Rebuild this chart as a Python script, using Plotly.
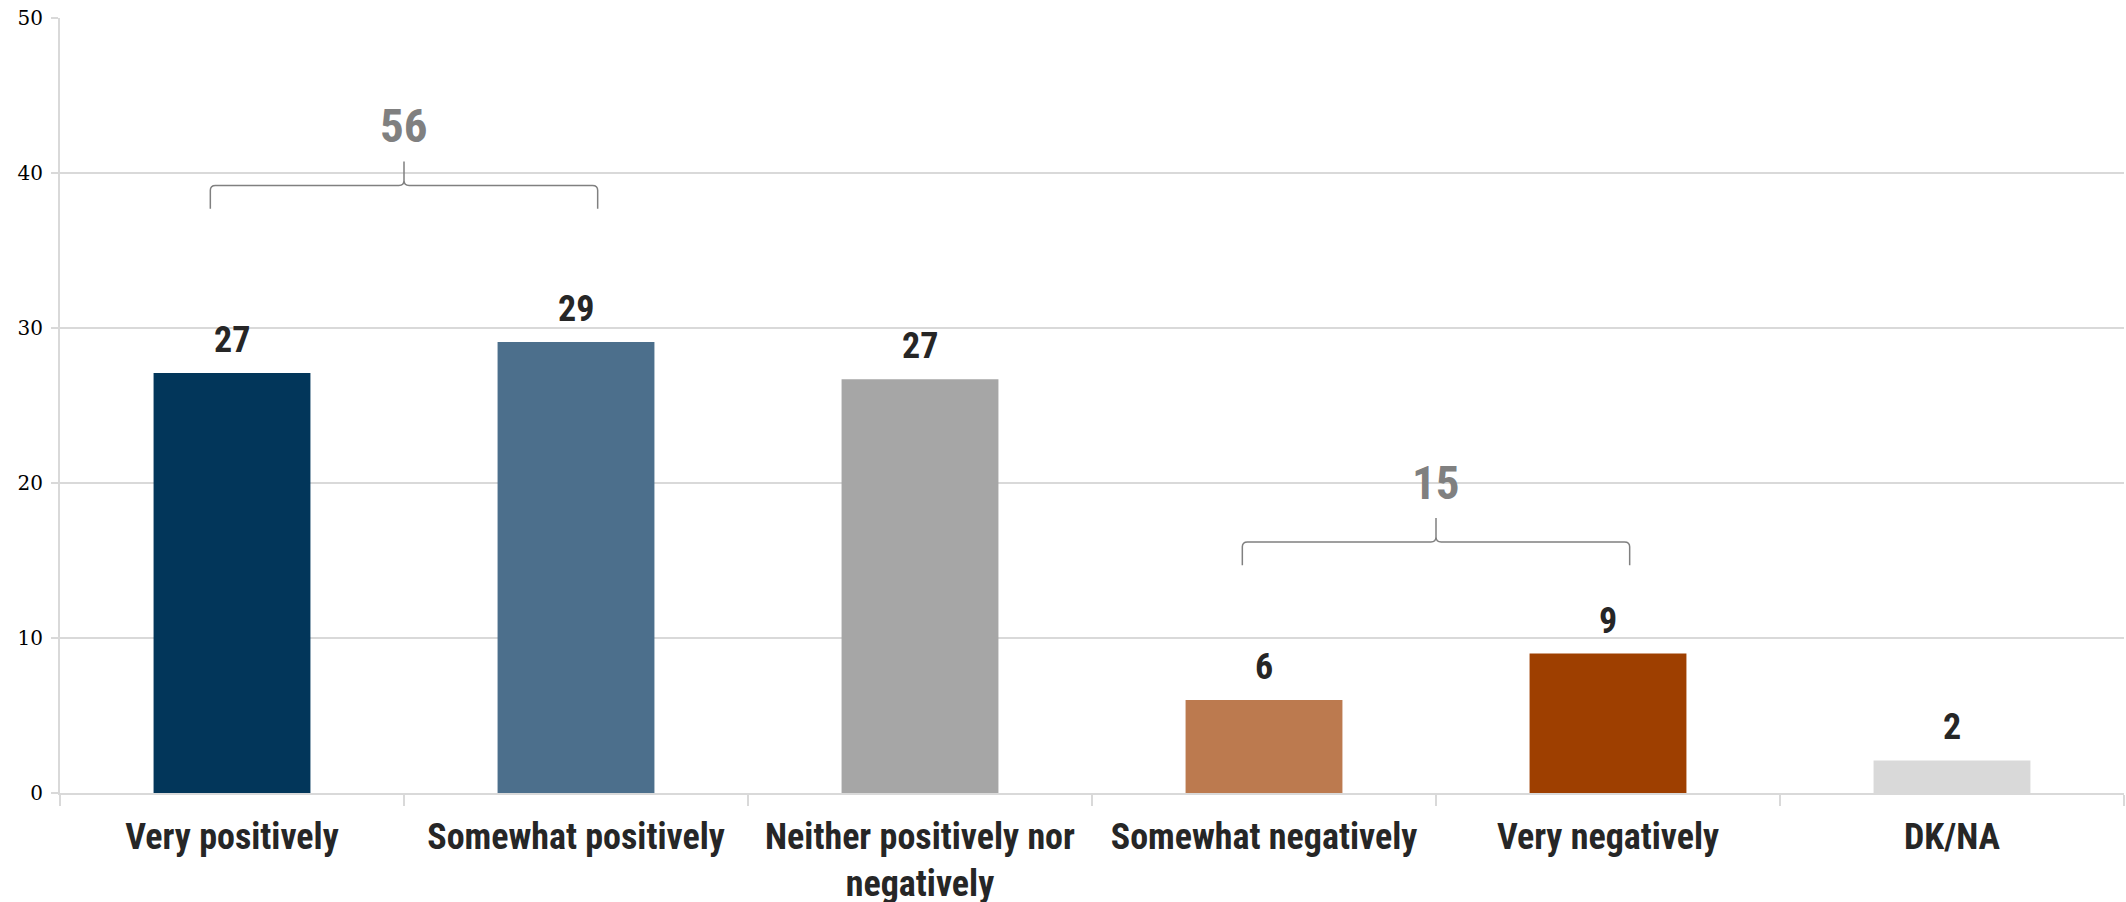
import plotly.graph_objects as go

# ---- data ----
categories = ["Very positively", "Somewhat positively", "Neither positively nor<br>negatively",
              "Somewhat negatively", "Very negatively", "DK/NA"]
values = [27.1, 29.1, 26.7, 6.0, 9.0, 2.1]
bar_colors = ["#02365A", "#4C6F8C", "#A6A6A6", "#BC7A4F", "#9E3F00", "#D9D9D9"]
y_ticks = [0, 10, 20, 30, 40, 50]
# groups bracketed with a total: (first index, last index)
groups = [(0, 1), (3, 4)]

# ---- layout styles ----
brace_levels = [39.2, 16.2]      # y of brace horizontal line
LABEL_FONT = "Liberation Sans Narrow, Arial Narrow, Roboto Condensed, Arial, sans-serif"
SERIF = "DejaVu Serif, Century Schoolbook, serif"
GRID = "#D9D9D9"
DARK = "#262626"
BRACE = "#808080"

x_idx = list(range(len(categories)))

fig = go.Figure()
fig.add_trace(go.Bar(
    x=x_idx, y=values, marker=dict(color=bar_colors, line=dict(width=0)),
    width=0.456, hoverinfo="skip", showlegend=False,
))

# value labels
for i, v in zip(x_idx, values):
    fig.add_annotation(x=i, y=v, text=f"<b>{round(v)}</b>", showarrow=False,
                       yanchor="bottom", yshift=10,
                       font=dict(family=LABEL_FONT, size=36, color=DARK))

# braces with totals
ext = 0.063
ry = 0.32   # corner size in y units
rx = 0.015  # corner size in x units
for (a, b), level in zip(groups, brace_levels):
    x0 = a - ext
    x1 = b + ext
    xm = (a + b) / 2
    yend = level - 1.5
    ytip = level + 1.55
    path = (f"M {x0},{yend} L {x0},{level - ry} Q {x0},{level} {x0 + rx},{level} "
            f"L {xm - rx},{level} Q {xm},{level} {xm},{level + ry} L {xm},{ytip} "
            f"M {xm},{level + ry} Q {xm},{level} {xm + rx},{level} "
            f"L {x1 - rx},{level} Q {x1},{level} {x1},{level - ry} L {x1},{yend}")
    fig.add_shape(type="path", path=path, xref="x", yref="y",
                  line=dict(color=BRACE, width=1.5))
    total = round(sum(values[a:b + 1]))
    fig.add_annotation(x=xm, y=level + 3.85, text=f"<b>{total}</b>", showarrow=False,
                       yanchor="middle",
                       font=dict(family=LABEL_FONT, size=47, color=BRACE))

fig.update_layout(
    width=2126, height=902,
    margin=dict(l=60, r=2, t=18, b=109, autoexpand=False),
    paper_bgcolor="white", plot_bgcolor="white",
    bargap=0.544,
)
fig.update_xaxes(
    automargin=False,
    range=[-0.5, len(categories) - 0.5],
    tickmode="array", tickvals=x_idx, ticktext=[f"<b>{c}</b>" for c in categories],
    ticks="", showgrid=False, zeroline=False,
    showline=True, linecolor=GRID, linewidth=2,
    tickfont=dict(family=LABEL_FONT, size=36, color=DARK),
    ticklabelstandoff=11,
    minor=dict(tickmode="array", tickvals=[i - 0.5 for i in range(len(categories) + 1)],
               ticks="outside", ticklen=11, tickcolor=GRID, tickwidth=2, showgrid=False),
)
fig.update_yaxes(
    automargin=False,
    range=[0, 50], tickmode="array", tickvals=y_ticks,
    showgrid=True, gridcolor=GRID, gridwidth=1.5,
    zeroline=False, showline=True, linecolor=GRID, linewidth=2,
    ticks="outside", ticklen=7, tickcolor=GRID, tickwidth=1.5,
    tickfont=dict(family=SERIF, size=20, color="#000000"),
    ticklabelstandoff=4,
)

fig.write_html(
    "out.html",
    config={"displayModeBar": False},
    post_script="document.body.style.margin='0';document.body.style.overflow='hidden';",
)
